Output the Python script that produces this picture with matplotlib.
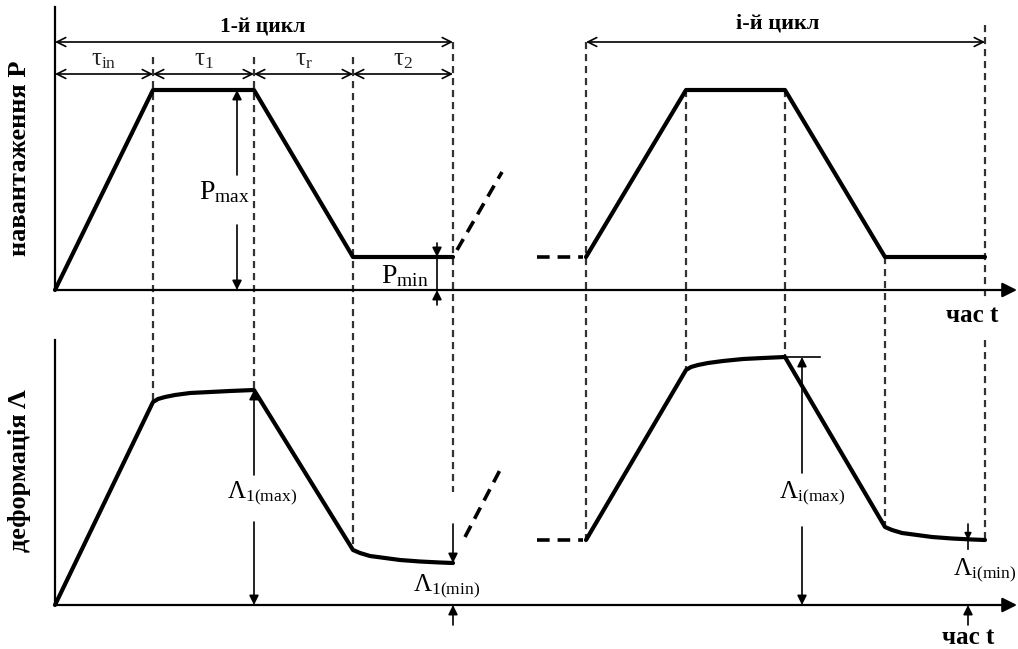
import matplotlib
matplotlib.use("Agg")
import matplotlib.pyplot as plt

plt.rcParams['font.family'] = ['Liberation Serif', 'DejaVu Serif']
plt.rcParams['mathtext.fontset'] = 'custom'
plt.rcParams['mathtext.rm'] = 'Liberation Serif'
plt.rcParams['mathtext.it'] = 'Liberation Serif'

# --- schematic data (image coordinates, y grows downwards) ---
axis_x0 = 55
load_axis_y = 290
strain_axis_y = 605

# time marks of the first and the i-th cycle
cycle1_t = [55, 153, 254, 353, 453]
cyclei_t = [586, 686, 785, 885, 985]

# load P levels at the time marks
load1 = [290, 90, 90, 257, 257]
loadi = [257, 90, 90, 257, 257]

# strain curves
strain1_x = [55, 153, 158, 165, 175, 190, 210, 230, 254,
             353, 360, 370, 385, 400, 420, 440, 453]
strain1_y = [605, 402, 399, 397, 395, 393, 392, 391, 390,
             550, 553, 556, 558, 560, 561.5, 562.5, 563]
straini_x = [586, 686, 691, 698, 708, 723, 743, 763, 785,
             885, 892, 902, 917, 932, 952, 972, 985]
straini_y = [540, 370, 367, 365, 363, 361, 359, 358, 357,
             527, 530, 533, 535, 537, 538.5, 539.5, 540]

# labels
tau_labels = [r'$\tau_{\mathrm{in}}$', r'$\tau_{\mathrm{1}}$',
              r'$\tau_{\mathrm{r}}$', r'$\tau_{\mathrm{2}}$']

fig = plt.figure(figsize=(10.18, 6.49), dpi=100)
ax = fig.add_axes([0, 0, 1, 1])
ax.set_xlim(0, 1018)
ax.set_ylim(649, 0)
ax.axis('off')

K = 'black'
dash_v = dict(color='#333333', lw=1.6, ls=(0, (3.2, 2.2)))
curve = dict(color=K, lw=3, solid_joinstyle='round', solid_capstyle='round')


def arrow(x0, y0, x1, y1, style='-|>', lw=1.2, ms=14):
    ax.annotate('', xy=(x1, y1), xytext=(x0, y0),
                arrowprops=dict(arrowstyle=style, color=K, lw=lw,
                                mutation_scale=ms, shrinkA=0, shrinkB=0))


def dim(x0, x1, y):
    arrow(x0, y, x1, y, style='<->', lw=1.2, ms=16)


# axes
ax.plot([axis_x0, axis_x0], [7, load_axis_y], color=K, lw=1.6)
arrow(axis_x0, load_axis_y, 1017, load_axis_y, lw=1.6, ms=22)
ax.plot([axis_x0, axis_x0], [340, strain_axis_y], color=K, lw=1.6)
arrow(axis_x0, strain_axis_y, 1017, strain_axis_y, lw=1.6, ms=22)

# vertical dashed guide lines
starts1 = [57, 57, 57, 42]
ends1 = [strain1_y[1], strain1_y[8], strain1_y[9], 492]
for x, y0, y1 in zip(cycle1_t[1:], starts1, ends1):
    ax.plot([x, x], [y0, y1], **dash_v)
startsi = [42, 90, 90, 257]
endsi = [straini_y[0], straini_y[1], straini_y[8], straini_y[9]]
for x, y0, y1 in zip(cyclei_t[:4], startsi, endsi):
    ax.plot([x, x], [y0, y1], **dash_v)
ax.plot([985, 985], [25, 298], **dash_v)
ax.plot([985, 985], [340, 540], **dash_v)

# load curves
ax.plot(cycle1_t, load1, **curve)
ax.plot(cyclei_t, loadi, **curve)
ax.plot([457, 502], [250, 172], color=K, lw=2.6, ls=(0, (3.5, 2.2)))
ax.plot([537, 583], [257, 257], color=K, lw=2.6, ls=(0, (3.5, 2.2)))

# strain curves
ax.plot(strain1_x, strain1_y, **curve)
ax.plot(straini_x, straini_y, **curve)
ax.plot([465, 500], [537, 470], color=K, lw=2.6, ls=(0, (3.5, 2.2)))
ax.plot([537, 583], [540, 540], color=K, lw=2.6, ls=(0, (3.5, 2.2)))

# dimension lines at the top
dim(55, 453, 42)
for a, b, lab in zip(cycle1_t[:-1], cycle1_t[1:], tau_labels):
    dim(a, b, 74)
    ax.text((a + b) / 2, 60, lab, fontsize=18, ha='center', va='center',
            color='#222222')
dim(586, 985, 42)
ax.text(263, 27, '1-й цикл', fontsize=15.5, fontweight='bold', ha='center', va='center')
ax.text(778, 24, 'і-й цикл', fontsize=16, fontweight='bold', ha='center', va='center')

# P max / P min
arrow(237, 175, 237, 90)
arrow(237, 225, 237, 290)
ax.text(224, 192, r'$\mathrm{P}_{\mathrm{max}}$', fontsize=20, ha='center', va='center')
arrow(437, 243, 437, 257)
ax.plot([437, 437], [257, 290], color=K, lw=1.2)
arrow(437, 305, 437, 290)
ax.text(405, 276, r'$\mathrm{P}_{\mathrm{min}}$', fontsize=20, ha='center', va='center')

# strain annotations
arrow(254, 475, 254, 390)
arrow(254, 522, 254, 605)
ax.text(262, 493, r'$\Lambda_{1\mathrm{(max)}}$', fontsize=18, ha='center', va='center')
arrow(453, 524, 453, 563)
arrow(453, 625, 453, 605)
ax.text(447, 586, r'$\Lambda_{1\mathrm{(min)}}$', fontsize=18, ha='center', va='center')

ax.plot([785, 820], [357, 357], color=K, lw=1.2)
arrow(802, 473, 802, 357)
arrow(802, 527, 802, 605)
ax.text(812, 493, r'$\Lambda_{i\mathrm{(max)}}$', fontsize=18, ha='center', va='center')
arrow(968, 524, 968, 540, ms=10)
ax.plot([968, 968], [540, 549], color=K, lw=1.2)
arrow(968, 625, 968, 605)
ax.text(985, 570, r'$\Lambda_{i\mathrm{(min)}}$', fontsize=18, ha='center', va='center')

# axis titles
ax.text(20, 158, 'навантаження P', fontsize=19, fontweight='bold', rotation=90,
        ha='center', va='center')
ax.text(20, 471, 'деформація Λ', fontsize=19, fontweight='bold', rotation=90,
        ha='center', va='center')
ax.text(972, 316, 'час t', fontsize=18, fontweight='bold', ha='center', va='center')
ax.text(968, 638, 'час t', fontsize=18, fontweight='bold', ha='center', va='center')

fig.savefig('out.png', dpi=100)
